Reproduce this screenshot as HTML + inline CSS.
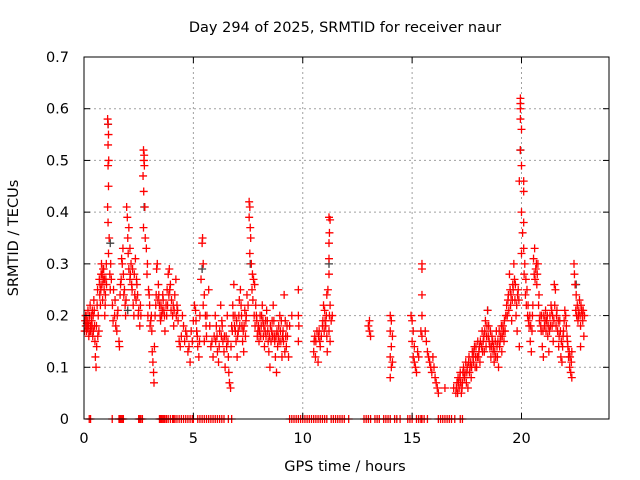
<!DOCTYPE html>
<html><head><meta charset="utf-8"><style>
body{margin:0;background:#fff;width:640px;height:480px;overflow:hidden}
svg{display:block;font-family:"DejaVu Sans","Liberation Sans",sans-serif}
</style></head><body>
<svg id="chart" width="640" height="480" viewBox="0 0 640 480">
<rect width="640" height="480" fill="#fff"/>
<text x="345" y="32" font-size="14.5" text-anchor="middle">Day 294 of 2025, SRMTID for receiver naur</text>
<text transform="translate(18,238) rotate(-90)" font-size="14.5" text-anchor="middle">SRMTID / TECUs</text>
<text x="345" y="471" font-size="14.5" text-anchor="middle">GPS time / hours</text>
<g id="grid"></g><g id="marks"></g><g id="axes"></g>
</svg>
<script>
const xTicks=[0,5,10,15,20];
const yTicks=[0,0.1,0.2,0.3,0.4,0.5,0.6,0.7];
const yTickLabels=["0","0.1","0.2","0.3","0.4","0.5","0.6","0.7"];
const zeroHours=[0.24,0.3,1.29,1.6,1.65,1.7,1.75,1.8,2.5,2.55,2.6,2.67,3.45,3.5,3.55,3.6,3.65,3.7,3.77,3.85,3.95,4.05,4.1,4.16,4.25,4.35,4.45,4.55,4.65,4.75,4.85,4.95,5.0,5.2,5.3,5.4,5.5,5.6,5.7,5.8,5.9,6.0,6.1,6.2,6.3,6.4,6.6,6.75,9.4,9.5,9.6,9.7,9.8,9.9,10.0,10.1,10.2,10.3,10.4,10.5,10.6,10.7,10.8,10.9,11.0,11.1,11.3,11.4,11.5,11.6,11.7,11.8,11.9,12.1,12.8,12.9,13.0,13.1,13.3,13.4,13.5,13.7,13.8,13.9,14.0,14.2,14.3,14.45,14.8,14.9,15.0,15.2,15.3,15.4,15.45,15.55,15.7,16.2,16.3,16.4,16.5,16.6,16.7,16.8,16.95,17.2,17.3];
const redPoints=[[0.05,.19],[0.08,.18],[0.1,.2],[0.12,.17],[0.15,.19],[0.18,.21],[0.2,.18],[0.22,.16],[0.25,.2],[0.28,.22],[0.3,.18],[0.32,.17],[0.35,.19],[0.38,.21],[0.4,.16],[0.42,.2],[0.45,.23],[0.48,.18],[0.5,.15],[0.52,.12],[0.55,.1],[0.58,.14],[0.6,.22],[0.62,.25],[0.65,.2],[0.68,.17],
[0.7,.27],[0.72,.24],[0.75,.22],[0.78,.28],[0.8,.3],[0.82,.26],[0.85,.23],[0.88,.27],[0.9,.29],[0.92,.25],[0.95,.2],[0.98,.24],[1.0,.27],[1.02,.3],
[1.08,.58],[1.1,.57],[1.12,.55],[1.1,.53],[1.13,.5],[1.1,.49],[1.12,.45],[1.08,.41],[1.1,.38],[1.15,.35],[1.12,.32],[1.18,.28],[1.2,.25],[1.22,.3],
[1.3,.22],[1.35,.25],[1.4,.2],[1.45,.18],[1.5,.17],[1.55,.21],[1.6,.15],[1.62,.14],[1.65,.24],[1.7,.27],[1.75,.3],[1.78,.33],[1.8,.28],[1.85,.25],[1.88,.22],[1.9,.2],
[1.95,.41],[1.98,.39],[2.0,.35],[2.02,.32],[2.05,.29],[2.1,.27],[2.15,.3],[2.2,.25],[2.25,.22],[2.28,.2],[2.3,.28],[2.35,.31],[2.4,.27],[2.45,.24],[2.5,.21],[2.55,.18],[2.6,.2],[2.05,.37],[2.1,.33],
[2.72,.52],[2.75,.51],[2.74,.5],[2.76,.49],[2.7,.47],[2.73,.44],[2.78,.41],[2.72,.37],[2.8,.35],[2.85,.33],[2.9,.3],[2.88,.28],[2.95,.25],
[3.0,.22],[3.05,.19],[3.1,.17],[3.12,.13],[3.15,.11],[3.18,.09],[3.2,.07],[3.22,.14],[3.25,.2],[3.3,.24],[3.32,.29],[3.35,.3],[3.4,.26],[3.45,.22],[3.5,.19],[3.55,.2],[3.6,.24],[3.65,.21],[3.7,.17],
[3.75,.22],[3.8,.25],[3.85,.28],[3.9,.29],[3.95,.26],[4.0,.23],[4.05,.2],[4.1,.18],[4.15,.24],[4.2,.27],[4.25,.22],[4.3,.19],[4.35,.15],[4.4,.14],[4.45,.16],[4.5,.2],[4.55,.18],
[4.65,.17],[4.75,.13],[4.85,.11],[4.95,.15],[5.0,.19],[5.05,.22],
[5.1,.21],[5.15,.17],[5.2,.14],[5.25,.12],[5.3,.2],[5.35,.27],[5.4,.34],[5.42,.35],[5.45,.3],[5.5,.24],[5.55,.2],[5.6,.16],[5.45,.22],[5.5,.15],
[5.7,.25],[5.8,.14],[5.9,.12],[5.95,.16],[6.0,.2],[6.05,.18],[6.1,.13],[6.15,.11],[6.2,.17],[6.25,.22],[6.3,.19],[6.35,.15],[6.4,.13],[6.45,.1],[6.5,.16],
[6.55,.2],[6.6,.12],[6.62,.09],[6.65,.07],[6.7,.06],[6.72,.14],[6.75,.18],[6.8,.22],[6.85,.26],[6.9,.2],[6.95,.15],[7.0,.12],[7.05,.17],[7.1,.23],[7.15,.25],[7.2,.2],
[7.25,.15],[7.3,.13],[7.35,.21],[7.4,.19],[7.45,.24],
[7.55,.42],[7.58,.41],[7.55,.39],[7.6,.37],[7.62,.35],[7.58,.32],[7.65,.3],[7.7,.28],[7.75,.27],[7.8,.26],[7.72,.23],[7.85,.22],
[7.9,.19],[7.95,.17],[8.0,.15],[8.05,.2],[8.1,.18],[8.15,.22],[8.2,.16],[8.25,.14],[8.3,.19],[8.35,.21],[8.4,.17],[8.45,.13],[8.5,.1],[8.55,.15],[8.6,.19],
[8.65,.22],[8.7,.16],[8.75,.12],[8.8,.09],[8.85,.14],[8.9,.18],[8.95,.2],[9.0,.15],[9.05,.12],[9.1,.17],[9.15,.24],[9.2,.19],[9.25,.14],[9.3,.16],[9.4,.18],[9.5,.2],
[9.8,.25],[9.8,.2],[9.82,.18],[9.8,.15],
[10.5,.13],[10.55,.16],[10.6,.15],[10.7,.11],[10.75,.17],[10.8,.14],[10.9,.18],[10.95,.22],[11.0,.21],[11.05,.18],[11.1,.16],[11.12,.13],
[11.2,.39],[11.25,.385],[11.22,.36],[11.2,.34],[11.2,.31],[11.2,.28],[11.15,.25],[11.1,.24],[11.25,.22],[11.22,.2],[11.2,.17],[11.25,.15],[11.3,.19],[11.35,.2],
[13.0,.18],[13.05,.17],[13.1,.16],[13.05,.19],
[14.0,.2],[14.05,.19],[14.0,.17],[14.1,.16],[14.05,.14],[14.0,.12],[14.1,.11],[14.05,.1],[14.0,.08],
[14.95,.2],[15.0,.19],[15.05,.17],[15.0,.15],[15.1,.14],[15.05,.12],[15.1,.11],[15.15,.1],[15.2,.09],[15.25,.13],[15.3,.12],[15.4,.17],[15.45,.3],[15.45,.29],[15.45,.24],[15.45,.2],[15.45,.16],
[15.6,.17],[15.65,.15],[15.7,.13],[15.75,.12],[15.8,.11],[15.85,.1],[15.9,.09],[15.95,.12],[16.0,.1],[16.05,.08],[16.1,.07],[16.15,.06],[16.2,.05],[16.5,.06],
[16.9,.06],[17.0,.05],[17.05,.07],[17.1,.08],[17.15,.06],[17.2,.09],[17.25,.05],[17.3,.07],[17.35,.1],[17.4,.08],[17.45,.11],[17.5,.09],[17.55,.06],[17.6,.12],[17.65,.1],[17.7,.08],[17.75,.13],[17.8,.11],[17.85,.14],[17.9,.12],[17.95,.1],[18.0,.15],[18.05,.13],[18.1,.11],
[18.2,.17],[18.25,.15],[18.3,.13],[18.35,.19],[18.4,.16],[18.45,.21],[18.5,.18],[18.55,.14],[18.6,.12],[18.65,.16],[18.7,.13],[18.75,.11],[18.8,.15],[18.85,.17],[18.9,.12],[18.95,.1],[19.0,.14],[19.05,.16],[19.1,.13],[19.15,.18],[19.2,.15],[19.25,.17],
[19.35,.2],[19.4,.24],[19.45,.28],[19.5,.22],[19.55,.19],[19.6,.26],[19.65,.3],[19.7,.23],[19.75,.2],[19.8,.17],[19.85,.25],[19.9,.14],
[19.95,.62],[19.95,.61],[19.95,.6],[19.95,.58],[20.0,.56],[19.95,.52],[20.0,.49],[19.9,.46],[20.1,.46],[20.1,.44],[20.0,.4],[20.1,.38],[20.05,.36],[20.1,.33],[20.0,.32],
[20.15,.3],[20.2,.27],[20.25,.25],[20.3,.22],[20.35,.18],[20.4,.15],[20.45,.13],[20.5,.2],[20.55,.31],[20.6,.33],[20.65,.29],[20.7,.26],[20.75,.3],[20.8,.24],[20.85,.2],[20.9,.17],[20.95,.14],[21.0,.12],
[21.05,.18],[21.1,.21],[21.15,.19],[21.2,.16],[21.25,.13],[21.3,.2],[21.35,.22],[21.4,.18],[21.45,.15],[21.5,.26],[21.55,.25],[21.6,.2],[21.65,.17],[21.7,.14],[21.75,.19],[21.8,.12],[21.85,.11],[21.9,.16],[21.95,.19],
[22.05,.18],[22.1,.15],[22.15,.12],[22.2,.1],[22.25,.09],[22.3,.08],[22.3,.13],
[22.4,.3],[22.42,.28],[22.45,.26],[22.5,.24],[22.55,.22],[22.6,.2],[22.65,.23],[22.7,.18],[22.75,.21],[22.8,.19],[22.85,.16],[22.7,.14]];
const extraPoints=[[0.03,.17],[0.07,.2],[0.13,.185],[0.17,.175],[0.23,.19],[0.27,.17],[0.33,.2],[0.37,.18],[0.43,.17],[0.47,.21],[0.57,.18],[0.63,.16],[0.73,.26],[0.77,.25],[0.83,.28],[0.87,.29],[0.93,.27],[0.97,.22],[1.03,.26],[1.25,.27],[1.33,.19],[1.42,.23],[1.52,.2],[1.67,.26],[1.72,.31],[1.82,.24],[1.92,.23],[2.12,.28],[2.18,.26],[2.22,.29],[2.32,.24],[2.38,.23],[2.42,.26],[2.48,.2],[2.58,.22],[2.92,.2],[2.98,.24],[3.02,.18],[3.08,.2],[3.28,.22],[3.38,.23],[3.42,.24],[3.48,.2],[3.52,.22],[3.58,.21],[3.62,.23],[3.68,.2],[3.78,.2],[3.82,.22],[3.88,.24],[3.92,.25],[3.98,.21],[4.08,.22],[4.12,.21],[4.22,.2],[4.28,.21],[4.6,.15],[4.7,.16],[4.8,.14],[4.9,.17],[5.12,.19],[5.18,.16],[5.28,.15],[5.58,.18],[5.62,.2],[5.75,.18],[5.85,.15],[6.02,.15],[6.08,.16],[6.18,.14],[6.28,.16],[6.32,.18],[6.42,.16],[6.52,.14],[6.58,.15],[6.78,.17],[6.82,.2],[6.88,.18],[6.92,.17],[6.98,.19],[7.02,.16],[7.08,.2],[7.12,.18],[7.18,.22],[7.22,.18],[7.28,.17],[7.32,.18],[7.38,.16],[7.42,.2],[7.5,.22],[7.68,.25],[7.78,.2],[7.82,.18],[7.88,.2],[7.92,.16],[7.98,.18],[8.02,.17],[8.08,.16],[8.12,.2],[8.18,.19],[8.22,.18],[8.28,.17],[8.32,.16],[8.38,.19],[8.42,.15],[8.48,.16],[8.52,.18],[8.58,.17],[8.62,.16],[8.68,.19],[8.72,.15],[8.78,.16],[8.82,.17],[8.88,.16],[8.92,.15],[8.98,.17],[9.02,.19],[9.08,.16],[9.12,.15],[9.18,.13],[9.22,.16],[9.28,.18],[9.35,.12],[10.52,.15],[10.58,.12],[10.65,.17],[10.72,.16],[10.78,.15],[10.85,.16],[10.92,.19],[10.98,.17],[11.02,.19],[11.08,.2],[17.02,.06],[17.08,.05],[17.12,.07],[17.18,.08],[17.22,.07],[17.28,.06],[17.32,.09],[17.38,.08],[17.42,.09],[17.48,.07],[17.52,.1],[17.58,.11],[17.62,.09],[17.68,.11],[17.72,.1],[17.78,.12],[17.82,.13],[17.88,.1],[17.92,.14],[17.98,.12],[18.02,.12],[18.08,.14],[18.12,.15],[18.18,.14],[18.22,.13],[18.28,.16],[18.32,.17],[18.38,.14],[18.42,.18],[18.48,.16],[18.52,.15],[18.58,.17],[18.62,.14],[18.68,.15],[18.72,.14],[18.78,.13],[18.82,.12],[18.88,.14],[18.92,.15],[18.98,.17],[19.02,.15],[19.08,.18],[19.12,.16],[19.18,.17],[19.22,.19],[19.28,.2],[19.32,.22],[19.38,.23],[19.42,.21],[19.48,.25],[19.52,.24],[19.58,.23],[19.62,.25],[19.68,.27],[19.72,.26],[19.78,.22],[19.82,.24],[19.88,.23],[20.12,.28],[20.18,.24],[20.22,.22],[20.28,.2],[20.32,.19],[20.38,.2],[20.42,.18],[20.48,.17],[20.52,.22],[20.58,.28],[20.62,.27],[20.68,.3],[20.72,.28],[20.78,.22],[20.82,.19],[20.88,.18],[20.92,.2],[20.98,.17],[21.02,.2],[21.08,.19],[21.12,.17],[21.18,.2],[21.22,.18],[21.28,.17],[21.32,.18],[21.38,.21],[21.42,.2],[21.48,.19],[21.52,.22],[21.58,.18],[21.62,.21],[21.68,.19],[21.72,.16],[21.78,.17],[21.82,.15],[21.88,.14],[21.92,.17],[21.98,.21],[22.02,.2],[22.08,.16],[22.12,.14],[22.18,.13],[22.22,.12],[22.28,.11],[22.48,.21],[22.52,.2],[22.58,.19],[22.62,.21],[22.68,.2],[22.72,.22],[22.78,.2],[22.82,.21],[22.88,.2]];
const grayPoints=[[1.1,.57],[2.75,.41],[19.95,.52],[5.4,.29],[1.2,.34],[2.0,.21],[22.5,.26],[11.2,.3],[7.6,.3],[18.45,.21]];

const L=84,R=609,T=57,B=419,xMax=24,yMax=0.7;
const NS="http://www.w3.org/2000/svg";
function xs(h){return L+(R-L)*h/xMax;}
function ys(v){return B-(B-T)*v/yMax;}
function mk(tag,attrs,parent){const e=document.createElementNS(NS,tag);for(const k in attrs)e.setAttribute(k,attrs[k]);parent.appendChild(e);return e;}
const grid=document.getElementById('grid'),marks=document.getElementById('marks'),axes=document.getElementById('axes');
yTicks.forEach((t,i)=>{
  const y=ys(t);
  if(t>0&&t<yMax){const g=mk('line',{x1:L,x2:R,y1:y,y2:y,stroke:'#a0a0a0','stroke-dasharray':'2,3'},grid);
  
  }
  mk('line',{x1:L,x2:L+6,y1:y,y2:y,stroke:'#000'},axes);
  mk('line',{x1:R,x2:R-6,y1:y,y2:y,stroke:'#000'},axes);
  const tx=mk('text',{x:L-15,y:y+5,'font-size':14.5,'text-anchor':'end'},axes);
  tx.textContent=yTickLabels[i];
  
  
});
xTicks.forEach(t=>{
  const x=xs(t);
  if(t>0){const g=mk('line',{x1:x,x2:x,y1:T,y2:B,stroke:'#a0a0a0','stroke-dasharray':'2,3'},grid);
  
  }
  mk('line',{x1:x,x2:x,y1:B,y2:B-6,stroke:'#000'},axes);
  mk('line',{x1:x,x2:x,y1:T,y2:T+6,stroke:'#000'},axes);
  const tx=mk('text',{x:x,y:B+24,'font-size':14.5,'text-anchor':'middle'},axes);
  tx.textContent=String(t);
  
  
});
const frame=mk('rect',{x:L,y:T,width:R-L,height:B-T,fill:'none',stroke:'#000'},axes);


function plus(h,v,color,name){
  const x=xs(h),y=ys(v);
  const p=mk('path',{d:`M${x-4},${y}h8M${x},${y-4}v8`,stroke:color,'stroke-width':1.3,fill:'none'},marks);
  
  
}
grayPoints.forEach(p=>plus(p[0],p[1],'#404040','gray-point'));
redPoints.forEach(p=>plus(p[0],p[1],'#ff0000','srmtid-point'));
extraPoints.forEach(p=>plus(p[0],p[1],'#ff0000','srmtid-point'));
zeroHours.forEach(h=>plus(h,0,'#ff0000','zero-point'));
</script>
</body></html>
